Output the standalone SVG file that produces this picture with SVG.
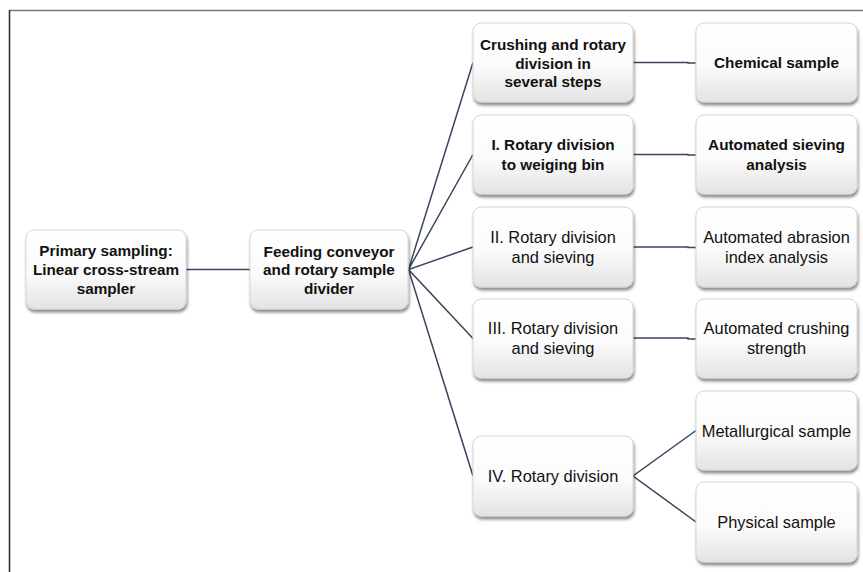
<svg xmlns="http://www.w3.org/2000/svg" width="863" height="572" viewBox="0 0 863 572">
<defs>
<linearGradient id="g" x1="0" y1="0" x2="0" y2="1">
<stop offset="0" stop-color="#ffffff"/>
<stop offset="0.55" stop-color="#fbfbfb"/>
<stop offset="1" stop-color="#e3e3e3"/>
</linearGradient>
<filter id="sh" x="-10%" y="-10%" width="125%" height="130%">
<feGaussianBlur in="SourceAlpha" stdDeviation="1.6"/>
<feOffset dx="1" dy="2.5" result="b"/>
<feComponentTransfer><feFuncA type="linear" slope="0.45"/></feComponentTransfer>
<feMerge><feMergeNode/><feMergeNode in="SourceGraphic"/></feMerge>
</filter>
</defs>
<style>
.box{fill:url(#g);stroke:#d6d6d6;stroke-width:1;filter:url(#sh)}
.b{font-family:"Liberation Sans",Arial,sans-serif;font-weight:bold;font-size:15.3px;fill:#111;text-anchor:middle}
.r{font-family:"Liberation Sans",Arial,sans-serif;font-size:16.4px;fill:#111;text-anchor:middle}
.c{fill:none;stroke:#3a465e;stroke-width:1.5}
</style>
<rect width="863" height="572" fill="#ffffff"/>
<line x1="9" y1="10.5" x2="863" y2="10.5" stroke="#7a7a7a" stroke-width="1.3"/>
<line x1="9.5" y1="10" x2="9.5" y2="572" stroke="#333333" stroke-width="1.6"/>
<g id="connectors">
<line class="c" x1="186" y1="269.5" x2="250" y2="269.5"/>
<polyline class="c" points="473,62.5 408.5,269.5 473,154.5"/>
<polyline class="c" points="473,247 408.5,269.5 473,338.5"/>
<line class="c" x1="408.5" y1="269.5" x2="473" y2="476"/>
<polyline class="c" points="633,62.5 688,62.5 688,63 696,63"/>
<polyline class="c" points="633,154.5 688,154.5 688,155 696,155"/>
<polyline class="c" points="633,247 688,247 688,247.5 696,247.5"/>
<polyline class="c" points="633,338 688,338 688,339 696,339"/>
<polyline class="c" points="696,430.5 633,476 696,522"/>
</g>
<g id="primary">
<rect class="box" x="26" y="230" width="160" height="79" rx="8"/>
<text class="b" x="106" y="256">Primary sampling:</text>
<text class="b" x="106" y="275">Linear cross-stream</text>
<text class="b" x="106" y="294">sampler</text>
</g>
<g id="feeding">
<rect class="box" x="250" y="230" width="158" height="79" rx="8"/>
<text class="b" x="329" y="256.5">Feeding conveyor</text>
<text class="b" x="329" y="275">and rotary sample</text>
<text class="b" x="329" y="293.5">divider</text>
</g>
<g id="crushing">
<rect class="box" x="473" y="23" width="160" height="79" rx="8"/>
<text class="b" x="553" y="50">Crushing and rotary</text>
<text class="b" x="553" y="68.5">division in</text>
<text class="b" x="553" y="87">several steps</text>
</g>
<g id="chemical">
<rect class="box" x="696" y="23" width="161" height="79" rx="8"/>
<text class="b" x="776.5" y="68">Chemical sample</text>
</g>
<g id="rotary1">
<rect class="box" x="473" y="115" width="160" height="79" rx="8"/>
<text class="b" x="553" y="150">I. Rotary division</text>
<text class="b" x="553" y="169.5">to weiging bin</text>
</g>
<g id="sieving">
<rect class="box" x="696" y="115" width="161" height="79" rx="8"/>
<text class="b" x="776.5" y="150">Automated sieving</text>
<text class="b" x="776.5" y="169.5">analysis</text>
</g>
<g id="rotary2">
<rect class="box" x="473" y="207" width="160" height="80" rx="8"/>
<text class="r" x="553" y="242.5">II. Rotary division</text>
<text class="r" x="553" y="262.5">and sieving</text>
</g>
<g id="abrasion">
<rect class="box" x="696" y="207" width="161" height="80" rx="8"/>
<text class="r" x="776.5" y="242.5">Automated abrasion</text>
<text class="r" x="776.5" y="262.5">index analysis</text>
</g>
<g id="rotary3">
<rect class="box" x="473" y="299" width="160" height="79" rx="8"/>
<text class="r" x="553" y="334">III. Rotary division</text>
<text class="r" x="553" y="354">and sieving</text>
</g>
<g id="crushstrength">
<rect class="box" x="696" y="299" width="161" height="79" rx="8"/>
<text class="r" x="776.5" y="334">Automated crushing</text>
<text class="r" x="776.5" y="354">strength</text>
</g>
<g id="rotary4">
<rect class="box" x="473" y="436" width="160" height="80" rx="8"/>
<text class="r" x="553" y="482">IV. Rotary division</text>
</g>
<g id="metallurgical">
<rect class="box" x="696" y="391" width="161" height="79" rx="8"/>
<text class="r" x="776.5" y="436.5">Metallurgical sample</text>
</g>
<g id="physical">
<rect class="box" x="696" y="482" width="161" height="80" rx="8"/>
<text class="r" x="776.5" y="528">Physical sample</text>
</g>
</svg>
